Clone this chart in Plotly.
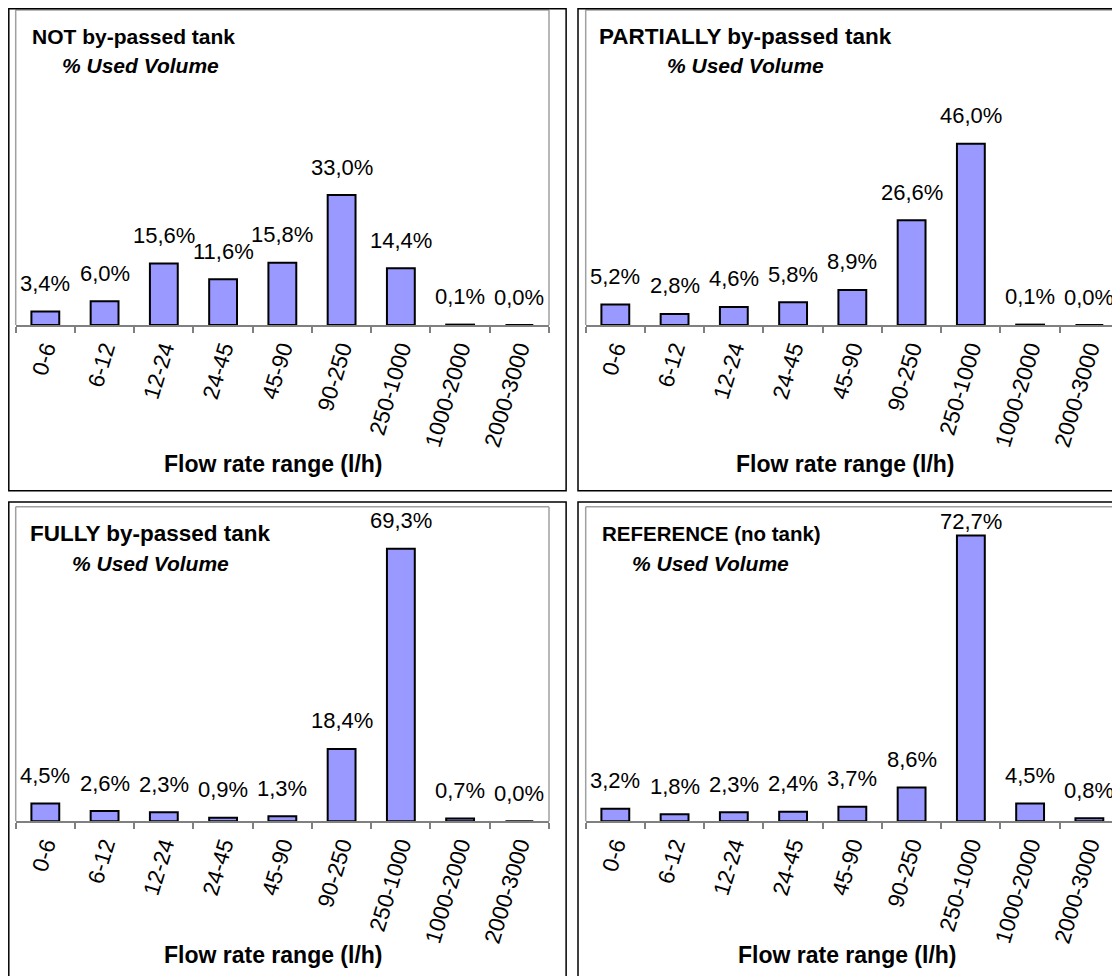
import plotly.graph_objects as go

# ---------------- data ----------------
categories = ["0-6", "6-12", "12-24", "24-45", "45-90", "90-250",
              "250-1000", "1000-2000", "2000-3000"]
not_bypassed = [3.4, 6.0, 15.6, 11.6, 15.8, 33.0, 14.4, 0.1, 0.0]
partially_bypassed = [5.2, 2.8, 4.6, 5.8, 8.9, 26.6, 46.0, 0.1, 0.0]
fully_bypassed = [4.5, 2.6, 2.3, 0.9, 1.3, 18.4, 69.3, 0.7, 0.0]
reference_no_tank = [3.2, 1.8, 2.3, 2.4, 3.7, 8.6, 72.7, 4.5, 0.8]
panel_titles = ["NOT by-passed tank", "PARTIALLY by-passed tank",
                "FULLY by-passed tank", "REFERENCE (no tank)"]
subtitle = "% Used Volume"
x_title = "Flow rate range (l/h)"

series = [not_bypassed, partially_bypassed, fully_bypassed, reference_no_tank]

# ---------------- layout geometry (page pixels) ----------------
OFF = 8  # page body margin offset
W, H = 1120 - OFF, 976 - OFF
FONT = "Arial, Liberation Sans, sans-serif"


def px_x(x):
    return min(max((x - OFF) / W, 0.0), 1.0)


def px_y(y):
    return min(max(1 - (y - OFF) / H, 0.0), 1.0)


# plot-area boxes: left, right, top, bottom (page pixels)
plot_boxes = [
    (15.7, 549.0, 10.0, 325.0),
    (585.7, 1119.0, 10.0, 325.0),
    (15.7, 549.0, 506.7, 821.3),
    (585.7, 1119.0, 506.7, 821.3),
]
# outer chart borders
outer_boxes = [
    (8.8, 555, 8.8, 481),
    (578, 1140, 8.8, 481),
    (8.8, 555, 502, 990),
    (578, 1140, 502, 990),
]
title_pos = [(30, 37), (597, 37), (28, 533), (600, 533)]
title_size = [21, 22.5, 22.5, 20.5]
sub_pos = [(60, 66), (665, 65), (70, 563), (630, 563)]
xtitle_pos = [(273, 464), (845, 464), (273, 955), (847, 955)]

fig = go.Figure()
annotations = []
shapes = []

for i, vals in enumerate(series):
    ax = "" if i == 0 else str(i + 1)
    xa, ya = "x" + ax, "y" + ax
    fig.add_trace(go.Bar(
        x=categories, y=vals, xaxis=xa, yaxis=ya,
        width=0.47,
        marker=dict(color="#9999FF", line=dict(color="black", width=2)),
        showlegend=False, hoverinfo="x+y",
    ))
    l, r, t, b = plot_boxes[i]
    fig.update_layout(**{
        ("xaxis" + ax): dict(
            domain=[px_x(l), px_x(r)], anchor=ya,
            type="category", range=[-0.5, len(categories) - 0.5],
            showline=True, linecolor="#808080", linewidth=1.5,
            ticks="outside", tickson="boundaries", ticklen=6,
            tickcolor="#808080", tickwidth=1.5,
            tickangle=-73, showgrid=False, zeroline=False,
            tickfont=dict(family=FONT, size=22.5, color="black"),
        ),
        ("yaxis" + ax): dict(
            domain=[px_y(b), px_y(t)], anchor=xa,
            range=[0, 80], visible=False, showgrid=False,
        ),
    })
    # gray plot-area frame (left, top, right)
    for (x0, y0, x1, y1) in [(0, 0, 0, 1), (0, 1, 1, 1), (1, 0, 1, 1)]:
        shapes.append(dict(
            type="line", xref=xa + " domain", yref=ya + " domain",
            x0=x0, y0=y0, x1=x1, y1=y1,
            line=dict(color="#A0A0A0", width=1.5),
        ))
    # outer black border
    ol, orr, ot, ob = outer_boxes[i]
    shapes.append(dict(
        type="rect", xref="paper", yref="paper",
        x0=px_x(ol), x1=px_x(orr) + 0.01, y0=px_y(ob) - 0.01, y1=px_y(ot),
        line=dict(color="black", width=1.5), fillcolor="rgba(0,0,0,0)",
    ))
    # data labels
    for c, v in zip(categories, vals):
        shift = 28 if v < 70 else (24 if v < 72 else 14)
        annotations.append(dict(
            x=c, y=v, xref=xa, yref=ya, yanchor="middle", yshift=shift,
            text=f"{v:.1f}%".replace(".", ","), showarrow=False,
            font=dict(family=FONT, size=22, color="black"),
        ))
    # titles
    tx, ty = title_pos[i]
    annotations.append(dict(
        x=px_x(tx), y=px_y(ty), xref="paper", yref="paper",
        xanchor="left", yanchor="middle", showarrow=False,
        text="<b>" + panel_titles[i] + "</b>",
        font=dict(family=FONT, size=title_size[i], color="black"),
    ))
    sx, sy = sub_pos[i]
    annotations.append(dict(
        x=px_x(sx), y=px_y(sy), xref="paper", yref="paper",
        xanchor="left", yanchor="middle", showarrow=False,
        text="<b><i>" + subtitle + "</i></b>",
        font=dict(family=FONT, size=21, color="black"),
    ))
    xx, xy = xtitle_pos[i]
    annotations.append(dict(
        x=px_x(xx), y=px_y(xy), xref="paper", yref="paper",
        xanchor="center", yanchor="middle", showarrow=False,
        text="<b>" + x_title + "</b>",
        font=dict(family=FONT, size=23, color="black"),
    ))

fig.update_layout(
    width=W, height=H, margin=dict(l=0, r=0, t=0, b=0),
    paper_bgcolor="white", plot_bgcolor="white",
    annotations=annotations, shapes=shapes,
    font=dict(family=FONT, color="black"),
)

fig.write_html("out.html")
